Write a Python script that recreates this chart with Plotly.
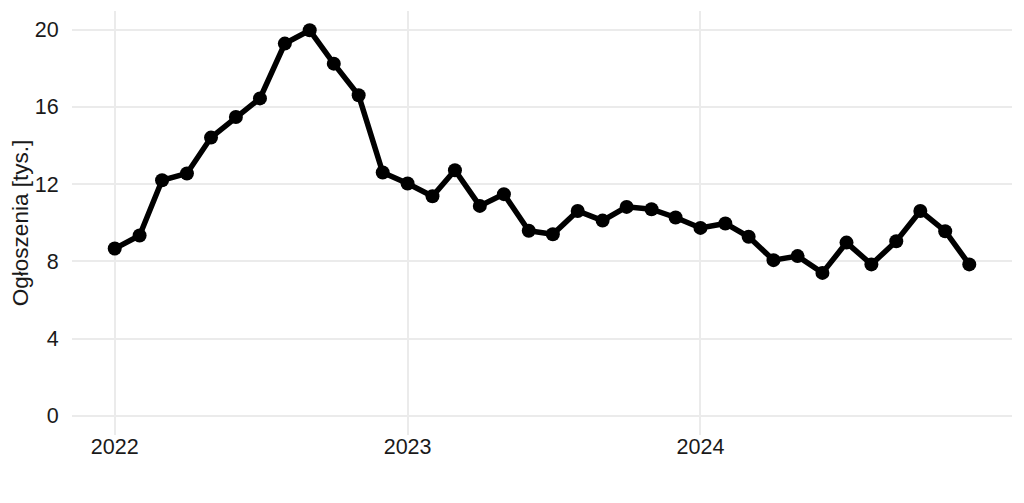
import plotly.graph_objects as go
import numpy as np
import pandas as pd

months = pd.date_range("2022-01-01", "2024-12-01", freq="MS")
ads_thousands = [8.66, 9.34, 12.20, 12.55, 14.41, 15.48, 16.44, 19.28, 19.97, 18.24, 16.60, 12.60,
                 12.03, 11.37, 12.72, 10.87, 11.48, 9.58, 9.40, 10.61, 10.11, 10.82, 10.70, 10.27,
                 9.73, 9.96, 9.27, 8.06, 8.27, 7.40, 8.97, 7.84, 9.04, 10.61, 9.56, 7.84]
y_ticks = [0, 4, 8, 12, 16, 20]
x_ticks = ["2022-01-01", "2023-01-01", "2024-01-01"]
x_tick_labels = ["2022", "2023", "2024"]

span = months[-1] - months[0]
pad = span * 0.05
x_range = [months[0] - pad, months[-1] + pad]
ymin, ymax = 0, max(ads_thousands)
ypad = (ymax - ymin) * 0.05

fig = go.Figure()
fig.add_trace(go.Scatter(
    x=months, y=ads_thousands, mode="lines+markers",
    line=dict(color="black", width=5.5),
    marker=dict(color="black", size=14),
    showlegend=False,
))

font = "Liberation Sans, Arial, sans-serif"
# page body has an 8px margin, so the figure is sized/offset to compensate
fig.update_layout(
    width=1016, height=495,
    margin=dict(l=64, r=12, t=3, b=68),
    paper_bgcolor="white", plot_bgcolor="white",
    font=dict(family=font, color="black"),
)
fig.update_xaxes(
    range=x_range, tickvals=x_ticks, ticktext=x_tick_labels,
    showgrid=True, gridcolor="#EBEBEB", gridwidth=1.5,
    zeroline=False, showline=False, automargin=False,
    ticks="", ticklabelstandoff=-4,
    tickfont=dict(size=21.5, color="#1a1a1a"),
)
fig.update_yaxes(
    range=[ymin - ypad, ymax + ypad], tickvals=y_ticks,
    showgrid=True, gridcolor="#EBEBEB", gridwidth=1.5,
    zeroline=False, showline=False, automargin=False,
    ticks="outside", ticklen=8, tickcolor="rgba(0,0,0,0)",
    tickfont=dict(size=21.5, color="#1a1a1a"),
    title=dict(text="Ogłoszenia [tys.]", font=dict(size=22.5, color="#1a1a1a"), standoff=6),
)

fig.write_html("out.html")
